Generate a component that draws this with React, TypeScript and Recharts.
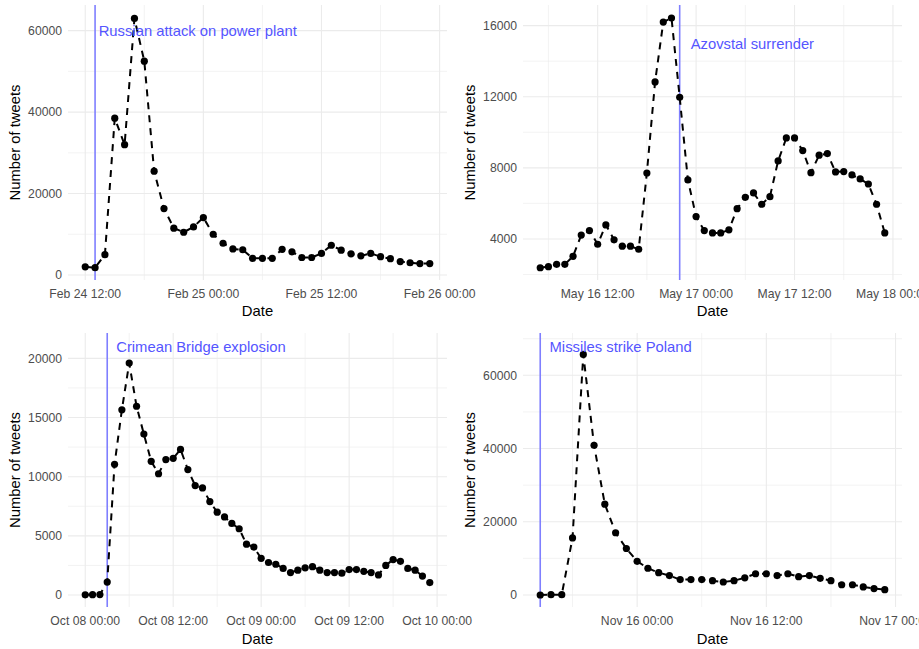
import { LineChart, Line, XAxis, YAxis, CartesianGrid, ReferenceLine, ReferenceDot } from 'recharts';

// hourly tweet counts, x = hours since midnight of the first day shown
const febStart = 12;
const febTweets = [2000, 1800, 5000, 38500, 32000, 63000, 52500, 25500, 16300, 11500, 10500, 11800, 14100, 10000, 7800, 6400, 6200, 4100, 4100, 4100, 6300, 5700, 4300, 4300, 5300, 7300, 6100, 5200, 4700, 5300, 4500, 4000, 3300, 3000, 2800, 2800];
const febTicks = [12, 24, 36, 48];
const febTickLabels = ['Feb 24 12:00', 'Feb 25 00:00', 'Feb 25 12:00', 'Feb 26 00:00'];
const febMinorX = [18, 30, 42];
const febYTicks = [0, 20000, 40000, 60000];
const febMinorY = [10000, 30000, 50000];

const mayStart = 5;
const mayTweets = [2380, 2440, 2570, 2570, 3020, 4220, 4470, 3700, 4790, 3950, 3590, 3590, 3420, 7710, 12830, 16200, 16430, 11970, 7320, 5260, 4470, 4340, 4340, 4510, 5700, 6340, 6590, 5950, 6380, 8390, 9680, 9680, 8970, 7730, 8710, 8800, 7770, 7790, 7600, 7375, 7090, 5950, 4340];
const mayTicks = [12, 24, 36, 48];
const mayTickLabels = ['May 16 12:00', 'May 17 00:00', 'May 17 12:00', 'May 18 00:00'];
const mayMinorX = [6, 18, 30, 42];
const mayYTicks = [4000, 8000, 12000, 16000];
const mayMinorY = [2000, 6000, 10000, 14000];

const octStart = 0;
const octTweets = [20, 30, 40, 1100, 11050, 15650, 19600, 15950, 13600, 11300, 10250, 11450, 11550, 12300, 10600, 9250, 9050, 7900, 7000, 6600, 6050, 5600, 4300, 4050, 3100, 2750, 2600, 2250, 1900, 2100, 2300, 2400, 2100, 1900, 1900, 1850, 2150, 2150, 2000, 1900, 1700, 2500, 3000, 2850, 2250, 2100, 1600, 1050];
const octTicks = [0, 12, 24, 36, 48];
const octTickLabels = ['Oct 08 00:00', 'Oct 08 12:00', 'Oct 09 00:00', 'Oct 09 12:00', 'Oct 10 00:00'];
const octMinorX = [6, 18, 30, 42];
const octYTicks = [0, 5000, 10000, 15000, 20000];
const octMinorY = [2500, 7500, 12500, 17500];

const novStart = 15;
const novTweets = [0, 100, 100, 15600, 65700, 40900, 24800, 17000, 12700, 9200, 7300, 6100, 5300, 4200, 4200, 4200, 3900, 3550, 3900, 4700, 5800, 5800, 5300, 5800, 5000, 5300, 4550, 3900, 2800, 2800, 2200, 1750, 1450];
const novTicks = [24, 36, 48];
const novTickLabels = ['Nov 16 00:00', 'Nov 16 12:00', 'Nov 17 00:00'];
const novMinorX = [18, 30, 42];
const novYTicks = [0, 20000, 40000, 60000];
const novMinorY = [10000, 30000, 50000, 70000];

const events = [
  { name: 'Russian attack on power plant', hour: 13, labelY: 60000 },
  { name: 'Azovstal surrender', hour: 22, labelY: 15000 },
  { name: 'Crimean Bridge explosion', hour: 3, labelY: 21000 },
  { name: 'Missiles strike Poland', hour: 15, labelY: 67700 },
];

const toRows = (start: number, values: number[]) => values.map((v, i) => ({ hour: start + i, tweets: v }));

const tickStyle = { fill: '#4D4D4D', fontSize: 12.2 };
const titleStyle = { fill: '#000', fontSize: 14.8 };

type PanelProps = {
  left: number;
  top: number;
  height: number;
  marginTop: number;
  xAxisHeight: number;
  dateOffset: number;
  data: { hour: number; tweets: number }[];
  xDomain: [number, number];
  yDomain: [number, number];
  xTicks: number[];
  xLabels: string[];
  minorX: number[];
  yTicks: number[];
  minorY: number[];
  event: { name: string; hour: number; labelY: number };
  labelDx: number;
};

function Panel(p: PanelProps) {
  return (
    <div style={{ position: 'absolute', left: p.left, top: p.top }}>
      <LineChart width={460} height={p.height} data={p.data} margin={{ top: p.marginTop, right: 13, left: 0, bottom: 0 }}>
        <CartesianGrid stroke="#EBEBEB" strokeWidth={0.6} horizontalValues={p.minorY} verticalValues={p.minorX} />
        <CartesianGrid stroke="#EBEBEB" strokeWidth={1.1} horizontalValues={p.yTicks} verticalValues={p.xTicks} />
        <XAxis
          dataKey="hour"
          type="number"
          domain={p.xDomain}
          allowDataOverflow
          ticks={p.xTicks}
          interval={0}
          tickFormatter={(v: number) => p.xLabels[p.xTicks.indexOf(v)]}
          axisLine={false}
          tickLine={false}
          tickSize={0}
          tickMargin={9}
          height={p.xAxisHeight}
          tick={tickStyle}
          label={{ value: 'Date', position: 'insideBottom', offset: p.dateOffset, ...titleStyle }}
        />
        <YAxis
          type="number"
          domain={p.yDomain}
          allowDataOverflow
          ticks={p.yTicks}
          interval={0}
          axisLine={false}
          tickLine={false}
          tickSize={0}
          tickMargin={6}
          width={68}
          tick={tickStyle}
          label={{ value: 'Number of tweets', angle: -90, position: 'insideLeft', offset: 15, style: { textAnchor: 'middle' }, ...titleStyle }}
        />
        <ReferenceLine x={p.event.hour} stroke="#7F7FFF" strokeWidth={1.6} />
        <ReferenceDot
          x={p.event.hour}
          y={p.event.labelY}
          r={0}
          fill="none"
          stroke="none"
          label={{ value: p.event.name, position: 'right', offset: p.labelDx, fill: '#5555FF', fontSize: 14.8 }}
        />
        <Line
          dataKey="tweets"
          stroke="#000"
          strokeWidth={2}
          strokeDasharray="7 6"
          dot={{ r: 3.6, fill: '#000', stroke: 'none', strokeDasharray: 'none' }}
          activeDot={false}
          isAnimationActive={false}
        />
      </LineChart>
    </div>
  );
}

export default function App() {
  return (
    <div style={{ position: 'absolute', left: 0, top: 0, width: 919, height: 649, background: '#fff', overflow: 'hidden', fontFamily: '"Liberation Sans", Arial, sans-serif' }}>
      <style>{'.recharts-surface { overflow: visible; }'}</style>
      <Panel left={0} top={0} height={320} marginTop={5} xAxisHeight={40} dateOffset={4}
        data={toRows(febStart, febTweets)} xDomain={[10.25, 48.75]} yDomain={[-1230, 66300]}
        xTicks={febTicks} xLabels={febTickLabels} minorX={febMinorX} yTicks={febYTicks} minorY={febMinorY}
        event={events[0]} labelDx={3.6} />
      <Panel left={455} top={0} height={320} marginTop={5} xAxisHeight={40} dateOffset={4}
        data={toRows(mayStart, mayTweets)} xDomain={[2.9, 49.1]} yDomain={[1690, 17160]}
        xTicks={mayTicks} xLabels={mayTickLabels} minorX={mayMinorX} yTicks={mayYTicks} minorY={mayMinorY}
        event={events[1]} labelDx={11} />
      <Panel left={0} top={320} height={329} marginTop={13} xAxisHeight={42} dateOffset={5.4}
        data={toRows(octStart, octTweets)} xDomain={[-2.35, 49.35]} yDomain={[-1010, 22140]}
        xTicks={octTicks} xLabels={octTickLabels} minorX={octMinorX} yTicks={octYTicks} minorY={octMinorY}
        event={events[2]} labelDx={9} />
      <Panel left={455} top={320} height={329} marginTop={13} xAxisHeight={42} dateOffset={5.4}
        data={toRows(novStart, novTweets)} xDomain={[13.4, 48.6]} yDomain={[-3280, 71560]}
        xTicks={novTicks} xLabels={novTickLabels} minorX={novMinorX} yTicks={novYTicks} minorY={novMinorY}
        event={events[3]} labelDx={9.3} />
    </div>
  );
}
